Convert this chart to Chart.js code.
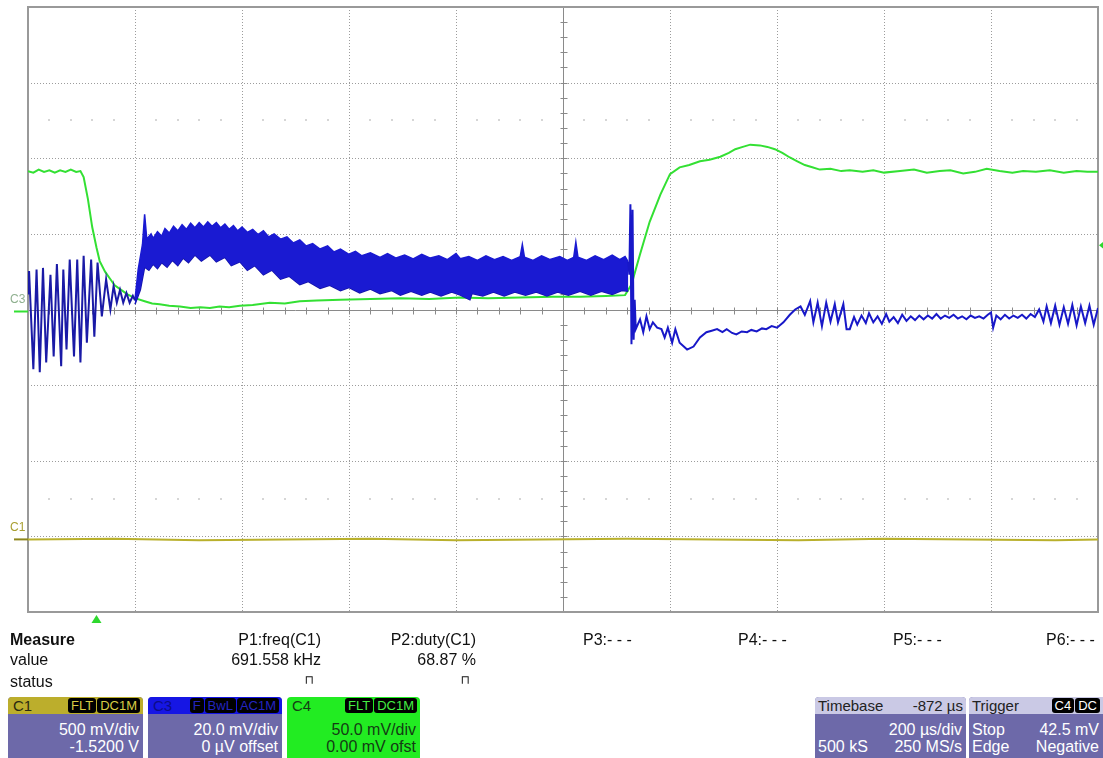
<!DOCTYPE html>
<html lang="en">
<head>
    <meta charset="UTF-8">
    <title>Scope capture - load step</title>
    <script src="https://cdn.jsdelivr.net/npm/chart.js@4.4.0/dist/chart.umd.min.js"></script>
    <style>
        body {
            margin: 0;
            background-color: #fff;
            font-family: "Liberation Sans", Arial, sans-serif;
        }
        #screen {
            position: relative;
            width: 1103px;
            height: 758px;
            overflow: hidden;
        }
        #canvas {
            position: absolute;
            left: 0;
            top: 0;
        }
        .t {
            position: absolute;
            font-size: 16px;
            line-height: 18px;
            color: #111;
            white-space: nowrap;
        }
        .r { text-align: right; }
        .tag {
            position: absolute;
            font-size: 12px;
            white-space: nowrap;
        }
        .box {
            position: absolute;
            top: 697px;
            height: 64px;
            border-radius: 4px;
            background-color: #6d69a9;
            overflow: hidden;
            color: #fff;
            font-size: 16px;
        }
        .box .hd {
            position: absolute;
            left: 0; right: 0; top: 0;
            height: 17px;
            line-height: 17px;
            font-size: 15px;
            padding-left: 5px;
        }
        .box .row {
            position: absolute;
            left: 4px; right: 4px;
            line-height: 18px;
            white-space: nowrap;
        }
        .badges {
            position: absolute;
            right: 3px; top: 1px;
            display: flex;
        }
        .badge {
            background-color: #000;
            border-radius: 3px;
            font-size: 13px;
            line-height: 15px;
            padding: 0 3px;
            margin-left: 1px;
        }
    </style>
</head>
<body>
<div id="screen">
    <canvas id="canvas" width="1103" height="630"></canvas>

    <!-- channel reference labels -->
    <div class="tag" style="left:10px;top:292px;color:#8fb08f;">C3</div>
    <div class="tag" style="left:10px;top:520px;color:#a89e30;">C1</div>

    <!-- measurement table -->
    <div class="t" style="left:10px;top:631px;font-weight:bold;">Measure</div>
    <div class="t" style="left:10px;top:651px;">value</div>
    <div class="t" style="left:10px;top:673px;">status</div>

    <div class="t r" style="left:0;width:321px;top:631px;">P1:freq(C1)</div>
    <div class="t r" style="left:0;width:321px;top:651px;">691.558 kHz</div>
    <div class="t r" style="left:0;width:314px;top:671px;font-size:12px;font-family:'DejaVu Sans';">⊓</div>

    <div class="t r" style="left:0;width:476px;top:631px;">P2:duty(C1)</div>
    <div class="t r" style="left:0;width:476px;top:651px;">68.87 %</div>
    <div class="t r" style="left:0;width:470px;top:671px;font-size:12px;font-family:'DejaVu Sans';">⊓</div>

    <div class="t" style="left:583px;top:631px;">P3:- - -</div>
    <div class="t" style="left:738px;top:631px;">P4:- - -</div>
    <div class="t" style="left:893px;top:631px;">P5:- - -</div>
    <div class="t" style="left:1046px;top:631px;">P6:- - -</div>

    <!-- channel boxes -->
    <div class="box" style="left:8px;width:135px;">
        <div class="hd" style="background-color:#bcae2c;color:#2a2a10;">C1
            <div class="badges" style="color:#d8cc44;"><span class="badge">FLT</span><span class="badge">DC1M</span></div>
        </div>
        <div class="row" style="top:24px;text-align:right;">500 mV/div</div>
        <div class="row" style="top:41px;text-align:right;">-1.5200 V</div>
    </div>
    <div class="box" style="left:148px;width:134px;">
        <div class="hd" style="background-color:#1616e4;color:#0c0c8a;">C3
            <div class="badges" style="color:#2424c0;"><span class="badge">F</span><span class="badge">BwL</span><span class="badge">AC1M</span></div>
        </div>
        <div class="row" style="top:24px;text-align:right;">20.0 mV/div</div>
        <div class="row" style="top:41px;text-align:right;">0 µV offset</div>
    </div>
    <div class="box" style="left:287px;width:133px;background-color:#22ec22;color:#143c14;">
        <div class="hd" style="color:#143c14;">C4
            <div class="badges" style="color:#44ee44;"><span class="badge">FLT</span><span class="badge">DC1M</span></div>
        </div>
        <div class="row" style="top:24px;text-align:right;">50.0 mV/div</div>
        <div class="row" style="top:41px;text-align:right;">0.00 mV ofst</div>
    </div>
    <div class="box" style="left:815px;width:151px;">
        <div class="hd" style="background-color:#cac9e5;color:#222;padding-left:3px;">Timebase
            <span style="position:absolute;right:3px;">-872 µs</span>
        </div>
        <div class="row" style="top:24px;text-align:right;">200 µs/div</div>
        <div class="row" style="top:41px;left:3px;">500 kS<span style="position:absolute;right:0;">250 MS/s</span></div>
    </div>
    <div class="box" style="left:969px;width:140px;">
        <div class="hd" style="background-color:#cac9e5;color:#222;padding-left:3px;">Trigger
            <div class="badges" style="color:#fff;right:9px;"><span class="badge">C4</span><span class="badge">DC</span></div>
        </div>
        <div class="row" style="top:24px;left:3px;right:10px;">Stop<span style="position:absolute;right:0;">42.5 mV</span></div>
        <div class="row" style="top:41px;left:3px;right:10px;">Edge<span style="position:absolute;right:0;">Negative</span></div>
    </div>
</div>

<script>
    // Screen coordinates: x in horizontal divisions (0..10), y in vertical divisions (-4..4)
    const xDivisions = 10;
    const yDivisions = 4;

    // C4 (green) - output voltage through the load step
    const c4Trace = [
        [0, 1.83], [0.05, 1.81], [0.10, 1.85], [0.15, 1.82], [0.20, 1.84], [0.25, 1.81], [0.30, 1.84],
        [0.35, 1.82], [0.40, 1.85], [0.45, 1.82], [0.49, 1.83], [0.52, 1.75], [0.56, 1.46], [0.60, 1.09],
        [0.64, 0.82], [0.67, 0.64], [0.72, 0.50], [0.77, 0.40], [0.81, 0.32], [0.86, 0.27], [0.93, 0.20],
        [1.00, 0.15], [1.09, 0.11], [1.16, 0.08], [1.23, 0.07], [1.32, 0.05], [1.42, 0.04], [1.52, 0.02],
        [1.61, 0.03], [1.70, 0.02], [1.79, 0.04], [1.88, 0.03], [1.98, 0.05], [2.10, 0.06], [2.26, 0.09],
        [2.40, 0.08], [2.54, 0.11], [2.70, 0.12], [2.92, 0.13], [3.20, 0.14], [3.48, 0.15], [3.75, 0.14],
        [4.04, 0.16], [4.30, 0.15], [4.60, 0.16], [4.90, 0.17], [5.16, 0.17], [5.40, 0.18], [5.58, 0.19],
        [5.64, 0.33], [5.72, 0.73], [5.81, 1.16], [5.91, 1.52], [6.00, 1.79], [6.09, 1.88], [6.18, 1.91],
        [6.28, 1.96], [6.37, 1.98], [6.47, 2.02], [6.55, 2.07], [6.61, 2.12], [6.68, 2.15], [6.75, 2.18],
        [6.84, 2.17], [6.91, 2.15], [6.98, 2.12], [7.05, 2.07], [7.12, 2.01], [7.19, 1.96], [7.26, 1.91],
        [7.33, 1.88], [7.40, 1.85], [7.50, 1.86], [7.60, 1.83], [7.68, 1.84], [7.80, 1.82], [7.90, 1.84],
        [8.00, 1.81], [8.15, 1.83], [8.28, 1.85], [8.40, 1.81], [8.52, 1.83], [8.62, 1.84], [8.74, 1.80],
        [8.85, 1.82], [8.96, 1.86], [9.08, 1.83], [9.20, 1.81], [9.30, 1.83], [9.42, 1.82], [9.55, 1.84],
        [9.68, 1.81], [9.80, 1.83], [9.90, 1.82], [10, 1.82]
    ];

    // C3 (blue) - ripple before the step
    const c3Start = [
        [0.00, 0.20], [0.01, 0.51], [0.05, -0.79], [0.08, 0.53], [0.11, -0.83], [0.14, 0.55], [0.17, -0.70],
        [0.21, 0.46], [0.24, -0.62], [0.27, 0.60], [0.31, -0.75], [0.33, 0.53], [0.36, -0.53], [0.39, 0.66],
        [0.43, -0.62], [0.46, 0.66], [0.49, -0.70], [0.52, 0.71], [0.55, -0.44], [0.59, 0.66], [0.62, -0.36],
        [0.65, 0.62], [0.69, -0.09], [0.73, 0.40], [0.77, 0.00], [0.80, 0.31], [0.83, 0.09], [0.86, 0.26],
        [0.89, 0.09], [0.92, 0.22], [0.95, 0.09], [0.98, 0.18], [1.00, 0.12]
    ];

    // C3 dense switching ripple: top and bottom of the band
    const c3BandTop = [
        [1.00, 0.13], [1.03, 0.53], [1.07, 0.86], [1.09, 1.26], [1.11, 0.93], [1.15, 1.00], [1.17, 0.94],
        [1.21, 1.03], [1.25, 0.97], [1.28, 1.07], [1.32, 1.01], [1.36, 1.10], [1.40, 1.04], [1.44, 1.12],
        [1.48, 1.06], [1.52, 1.14], [1.56, 1.08], [1.60, 1.15], [1.64, 1.09], [1.68, 1.16], [1.72, 1.10],
        [1.76, 1.15], [1.80, 1.08], [1.84, 1.13], [1.88, 1.06], [1.92, 1.11], [1.96, 1.04], [2.00, 1.09],
        [2.05, 1.02], [2.10, 1.06], [2.15, 0.99], [2.20, 1.04], [2.25, 0.96], [2.30, 1.00], [2.36, 0.93],
        [2.42, 0.96], [2.48, 0.88], [2.54, 0.92], [2.60, 0.84], [2.66, 0.87], [2.73, 0.80], [2.80, 0.84],
        [2.86, 0.76], [2.92, 0.80], [3.00, 0.73], [3.06, 0.77], [3.12, 0.71], [3.20, 0.75], [3.29, 0.69],
        [3.36, 0.74], [3.44, 0.68], [3.52, 0.72], [3.60, 0.67], [3.68, 0.73], [3.76, 0.68], [3.84, 0.71],
        [3.92, 0.66], [4.00, 0.74], [4.04, 0.67], [4.12, 0.70], [4.20, 0.65], [4.28, 0.71], [4.36, 0.66],
        [4.44, 0.70], [4.52, 0.65], [4.60, 0.70], [4.62, 0.86], [4.64, 0.69], [4.72, 0.65], [4.80, 0.71],
        [4.88, 0.66], [4.97, 0.70], [5.04, 0.65], [5.10, 0.69], [5.12, 0.89], [5.14, 0.69], [5.22, 0.65],
        [5.30, 0.71], [5.38, 0.66], [5.46, 0.72], [5.53, 0.66], [5.58, 0.70], [5.61, 0.63]
    ];
    const c3BandBottom = [
        [1.00, 0.07], [1.05, 0.26], [1.09, 0.56], [1.13, 0.52], [1.17, 0.60], [1.21, 0.54], [1.25, 0.62],
        [1.30, 0.56], [1.35, 0.65], [1.40, 0.58], [1.45, 0.68], [1.50, 0.62], [1.56, 0.72], [1.62, 0.64],
        [1.70, 0.72], [1.76, 0.63], [1.84, 0.69], [1.90, 0.58], [1.98, 0.63], [2.05, 0.52], [2.12, 0.58],
        [2.20, 0.46], [2.28, 0.52], [2.36, 0.40], [2.44, 0.44], [2.54, 0.33], [2.62, 0.37], [2.73, 0.28],
        [2.82, 0.32], [2.92, 0.25], [3.00, 0.29], [3.10, 0.22], [3.20, 0.27], [3.29, 0.21], [3.40, 0.25],
        [3.48, 0.19], [3.58, 0.24], [3.68, 0.19], [3.76, 0.23], [3.86, 0.18], [3.96, 0.23], [4.04, 0.19],
        [4.13, 0.13], [4.15, 0.21], [4.25, 0.18], [4.35, 0.23], [4.45, 0.18], [4.55, 0.23], [4.65, 0.19],
        [4.75, 0.23], [4.85, 0.18], [4.95, 0.23], [5.05, 0.19], [5.16, 0.24], [5.26, 0.19], [5.36, 0.24],
        [5.46, 0.20], [5.55, 0.25], [5.61, 0.24]
    ];

    // C3 after the step
    const c3End = [
        [5.61, 0.63], [5.62, 0.46], [5.63, 1.39], [5.64, -0.46], [5.65, 1.32], [5.66, -0.40], [5.67, 0.13],
        [5.68, -0.26], [5.72, -0.13], [5.75, -0.30], [5.78, -0.09], [5.81, -0.26], [5.84, -0.17], [5.88, -0.24],
        [5.92, -0.26], [5.95, -0.37], [5.98, -0.24], [6.02, -0.44], [6.05, -0.26], [6.09, -0.44], [6.16, -0.53],
        [6.22, -0.49], [6.28, -0.37], [6.34, -0.30], [6.39, -0.28], [6.44, -0.26], [6.49, -0.30], [6.53, -0.26],
        [6.58, -0.31], [6.62, -0.33], [6.67, -0.29], [6.72, -0.30], [6.76, -0.27], [6.81, -0.29], [6.86, -0.25],
        [6.90, -0.26], [6.95, -0.22], [7.00, -0.24], [7.06, -0.17], [7.12, -0.07], [7.17, 0.00], [7.22, 0.04],
        [7.26, -0.07], [7.31, 0.11], [7.34, -0.17], [7.38, 0.09], [7.42, -0.22], [7.46, 0.09], [7.50, -0.16],
        [7.54, 0.07], [7.57, -0.17], [7.62, 0.07], [7.65, -0.26], [7.68, -0.26], [7.72, -0.10], [7.75, -0.20],
        [7.79, -0.08], [7.83, -0.18], [7.86, -0.05], [7.90, -0.17], [7.94, -0.09], [7.98, -0.19], [8.02, -0.06],
        [8.05, -0.16], [8.09, -0.10], [8.13, -0.18], [8.17, -0.07], [8.21, -0.15], [8.25, -0.09], [8.29, -0.14],
        [8.33, -0.08], [8.37, -0.13], [8.41, -0.08], [8.45, -0.12], [8.49, -0.06], [8.53, -0.12], [8.57, -0.08],
        [8.61, -0.11], [8.65, -0.07], [8.69, -0.12], [8.73, -0.09], [8.77, -0.13], [8.81, -0.08], [8.85, -0.11],
        [8.89, -0.09], [8.93, -0.12], [8.97, -0.07], [9.00, -0.04], [9.02, -0.24], [9.05, -0.08], [9.09, -0.13],
        [9.13, -0.07], [9.17, -0.12], [9.21, -0.08], [9.25, -0.11], [9.29, -0.07], [9.33, -0.12], [9.37, -0.06],
        [9.41, -0.10], [9.45, 0.00], [9.49, -0.16], [9.52, 0.04], [9.56, -0.18], [9.60, 0.05], [9.64, -0.20],
        [9.68, 0.03], [9.72, -0.19], [9.76, 0.06], [9.80, -0.21], [9.84, 0.04], [9.88, -0.18], [9.92, 0.05],
        [9.96, -0.20], [10, 0.02]
    ];

    // C1 (yellow) - gate drive, flat at this scale
    const c1Trace = [
        [0, -3.04], [0.8, -3.03], [1.6, -3.05], [2.4, -3.04], [3.2, -3.03], [4.0, -3.05], [4.8, -3.04],
        [5.6, -3.03], [6.4, -3.04], [7.2, -3.05], [8.0, -3.03], [8.8, -3.04], [9.6, -3.05], [10, -3.04]
    ];

    // reference markers (divisions)
    const c4Offset = 0;
    const c1Offset = -3.04;
    const triggerLevel = 0.85;   // 42.5 mV at 50 mV/div
    const triggerTime = 0.64;

    const blue = '#1818c8';
    const bandBlue = '#1a1ad2';
    const green = '#33e033';
    const yellow = '#b9b02c';

    // graticule, centre cross and markers
    const scopeGrid = {
        id: 'scopeGrid',
        beforeDatasetsDraw(chart) {
            const { ctx, chartArea: a, scales: { x, y } } = chart;
            ctx.save();
            ctx.lineWidth = 1;

            // faint dot rows
            ctx.fillStyle = '#d6d6d6';
            for (const row of [2.5, -2.5]) {
                const py = Math.round(y.getPixelForValue(row));
                for (let i = 1; i < xDivisions * 5; i++) {
                    if (i % 5 === 0) continue;
                    const px = Math.round(x.getPixelForValue(i / 5));
                    ctx.fillRect(px - 1, py - 1, 2, 2);
                }
            }

            // dotted division lines
            ctx.strokeStyle = '#9c9c9c';
            ctx.setLineDash([1, 2]);
            for (let i = 1; i < xDivisions; i++) {
                if (i === xDivisions / 2) continue;
                const px = Math.round(x.getPixelForValue(i)) + 0.5;
                ctx.beginPath(); ctx.moveTo(px, a.top); ctx.lineTo(px, a.bottom); ctx.stroke();
            }
            for (let j = -yDivisions + 1; j < yDivisions; j++) {
                if (j === 0) continue;
                const py = Math.round(y.getPixelForValue(j)) + 0.5;
                ctx.beginPath(); ctx.moveTo(a.left, py); ctx.lineTo(a.right, py); ctx.stroke();
            }

            // solid centre cross with minor ticks
            ctx.setLineDash([]);
            ctx.strokeStyle = '#8a8a8a';
            const cx = Math.round(x.getPixelForValue(xDivisions / 2)) + 0.5;
            const cy = Math.round(y.getPixelForValue(0)) + 0.5;
            ctx.beginPath();
            ctx.moveTo(cx, a.top); ctx.lineTo(cx, a.bottom);
            ctx.moveTo(a.left, cy); ctx.lineTo(a.right, cy);
            for (let i = 1; i < xDivisions * 5; i++) {
                const px = Math.round(x.getPixelForValue(i / 5)) + 0.5;
                ctx.moveTo(px, cy - 3); ctx.lineTo(px, cy + 4);
            }
            for (let j = -yDivisions * 5 + 1; j < yDivisions * 5; j++) {
                const py = Math.round(y.getPixelForValue(j / 5)) + 0.5;
                ctx.moveTo(cx - 3, py); ctx.lineTo(cx + 4, py);
            }
            ctx.stroke();

            // outer frame
            ctx.strokeStyle = '#999';
            ctx.lineWidth = 2;
            ctx.strokeRect(a.left, a.top, a.right - a.left, a.bottom - a.top);
            ctx.restore();
        },
        afterDatasetsDraw(chart) {
            const { ctx, chartArea: a, scales: { x, y } } = chart;
            ctx.save();
            // channel ground markers
            ctx.lineWidth = 2;
            ctx.strokeStyle = green;
            let py = y.getPixelForValue(c4Offset) + 2;
            ctx.beginPath(); ctx.moveTo(a.left - 14, py); ctx.lineTo(a.left, py); ctx.stroke();
            ctx.strokeStyle = '#8e861c';
            py = y.getPixelForValue(c1Offset);
            ctx.beginPath(); ctx.moveTo(a.left - 14, py); ctx.lineTo(a.left, py); ctx.stroke();

            // trigger level arrow on the right edge
            ctx.fillStyle = '#2ed82e';
            py = y.getPixelForValue(triggerLevel);
            ctx.beginPath();
            ctx.moveTo(a.right + 1, py); ctx.lineTo(a.right + 7, py - 5); ctx.lineTo(a.right + 7, py + 5);
            ctx.closePath(); ctx.fill();

            // trigger position arrow under the graticule
            const px = x.getPixelForValue(triggerTime);
            ctx.beginPath();
            ctx.moveTo(px, a.bottom + 3); ctx.lineTo(px - 5, a.bottom + 11); ctx.lineTo(px + 5, a.bottom + 11);
            ctx.closePath(); ctx.fill();
            ctx.restore();
        }
    };

    const trace = (data, color, width, order) => ({
        data: data,
        borderColor: color,
        borderWidth: width,
        pointRadius: 0,
        tension: 0,
        fill: false,
        order: order
    });

    new Chart(document.getElementById('canvas'), {
        type: 'line',
        data: {
            datasets: [
                Object.assign(trace(c3BandTop, bandBlue, 1.5, 1), { fill: '+1', backgroundColor: bandBlue }),
                trace(c3BandBottom, '#1414a8', 1.5, 1),
                trace(c3Start, '#1a1aa6', 2, 0),
                trace(c3End, blue, 2, 0),
                trace(c4Trace, green, 2, 2),
                trace(c1Trace, yellow, 2, 3)
            ]
        },
        options: {
            responsive: false,
            animation: false,
            events: [],
            // the hidden axes still reserve 8px each, so the padding is reduced by that much
            layout: { padding: { left: 20, right: 5, top: 7, bottom: 10 } },
            plugins: { legend: { display: false }, tooltip: { enabled: false } },
            scales: {
                x: {
                    type: 'linear',
                    min: 0,
                    max: xDivisions,
                    ticks: { display: false },
                    grid: { display: false },
                    border: { display: false }
                },
                y: {
                    min: -yDivisions,
                    max: yDivisions,
                    ticks: { display: false },
                    grid: { display: false },
                    border: { display: false }
                }
            }
        },
        plugins: [scopeGrid]
    });
</script>
</body>
</html>
